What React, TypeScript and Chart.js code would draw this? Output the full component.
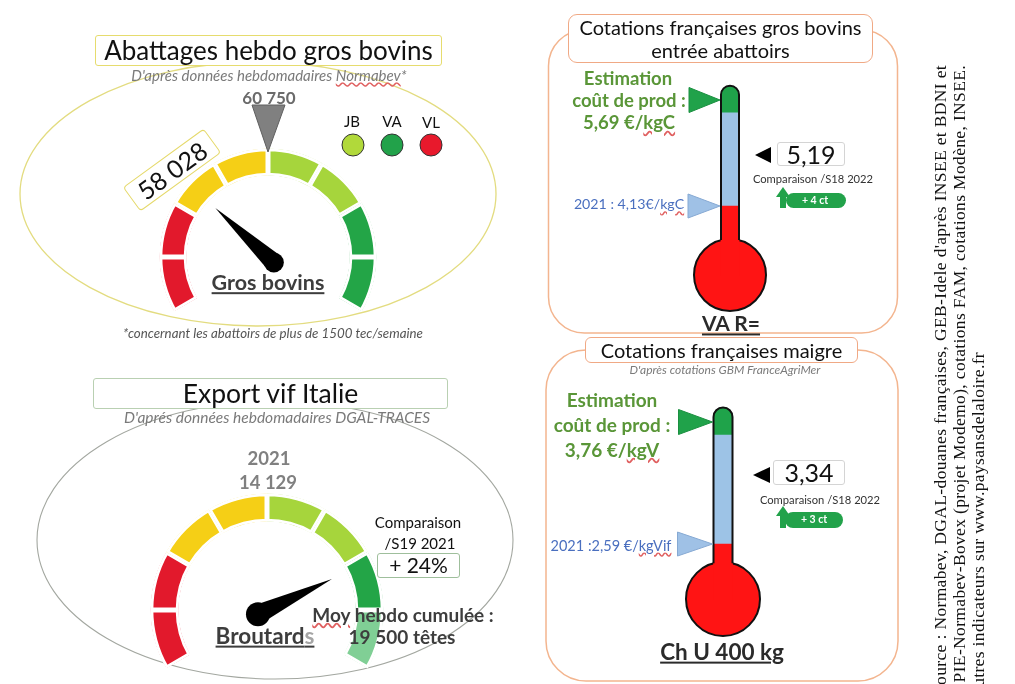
import React, { useEffect, useRef } from 'react';
import { Chart, registerables } from 'chart.js';
Chart.register(...registerables);

// ---------- Gauges ----------
const gaugeSegments = [1, 1, 1, 1, 1, 1, 1, 1];
const gaugeColors1 = ['#e2192c', '#e2192c', '#f5cf16', '#f5cf16', '#a6d53c', '#a6d53c', '#23a547', '#23a547'];
const gaugeColors2 = ['#e2192c', '#e2192c', '#f5cf16', '#f5cf16', '#a6d53c', '#a6d53c', '#23a547', '#80cf95'];
const gaugeReference = [60750, 14129];
const gaugeValue = [58028, 19500];
const gaugeMin = [53800, 4129];
const gaugeMax = [67700, 24129];

// ---------- Thermometers ----------
const thermoLabels = ['VA R=', 'Ch U 400 kg'];
const costEstimate = [5.69, 3.76];
const price2021 = [4.13, 2.59];
const currentPrice = ['5,19', '3,34'];
const weeklyChange = ['+ 4 ct', '+ 3 ct'];
const tubeTop = [5.9, 3.9];
const greenFrom = [5.5, 3.635];
const bulbLevel = [3.115, 2.063];
const thermoMin = [2.4524, 1.622];
const thermoMax = [6.1315, 4.0668];

type GaugeProps = { idx: number; cx: number; cy: number; size: number; rOut: number; rIn: number; colors: string[]; needleLen: number; knobR: number; knobOff: number };

function Gauge({ idx, cx, cy, size, rOut, rIn, colors, needleLen, knobR, knobOff }: GaugeProps) {
  const ref = useRef<HTMLCanvasElement>(null);
  useEffect(() => {
    const bw = 2.5;
    const total = gaugeSegments.reduce((a, b) => a + b, 0);
    const data = [...gaugeSegments, total / 2];
    const radius = rOut + bw;
    const inner = rIn - bw;
    const needle = {
      id: 'needle' + idx,
      afterDatasetsDraw(chart: any) {
        const arc = chart.getDatasetMeta(0).data[0];
        const x = arc.x, y = arc.y;
        const frac = (gaugeValue[idx] - gaugeMin[idx]) / (gaugeMax[idx] - gaugeMin[idx]);
        const ang = ((-120 + frac * 240) * Math.PI) / 180;
        const u = [Math.sin(ang), -Math.cos(ang)];
        const p = [Math.cos(ang), Math.sin(ang)];
        const ctx = chart.ctx;
        ctx.save();
        ctx.fillStyle = '#000';
        ctx.beginPath();
        ctx.moveTo(x + u[0] * needleLen, y + u[1] * needleLen);
        ctx.lineTo(x - u[0] * 4 + p[0] * 9, y - u[1] * 4 + p[1] * 9);
        ctx.lineTo(x - u[0] * 4 - p[0] * 9, y - u[1] * 4 - p[1] * 9);
        ctx.closePath();
        ctx.fill();
        ctx.beginPath();
        ctx.arc(x - u[0] * knobOff, y - u[1] * knobOff, knobR, 0, Math.PI * 2);
        ctx.fill();
        ctx.restore();
      },
    };
    const chart = new Chart(ref.current as HTMLCanvasElement, {
      type: 'doughnut',
      data: {
        labels: [...gaugeSegments.map((_, i) => 'S' + (i + 1)), 'gap'],
        datasets: [
          {
            data,
            backgroundColor: [...colors, 'rgba(0,0,0,0)'],
            borderColor: '#ffffff',
            borderWidth: [...gaugeSegments.map(() => bw), 0],
            borderAlign: 'inner',
          } as any,
        ],
      },
      options: {
        responsive: false,
        animation: false,
        events: [],
        rotation: -120,
        circumference: 360,
        radius,
        cutout: (inner / radius) * 100 + '%',
        layout: { padding: 0, autoPadding: false },
        plugins: { legend: { display: false }, tooltip: { enabled: false } },
      } as any,
      plugins: [needle],
    });
    return () => chart.destroy();
  }, []);
  return (
    <canvas
      ref={ref}
      width={size}
      height={size}
      style={{ position: 'absolute', left: cx - size / 2, top: cy - size / 2, width: size, height: size, zIndex: 1 }}
    />
  );
}

type ThermoProps = { idx: number; left: number; top: number; w: number; h: number; barW: number; bulbR: number; triLen: number };

function Thermo({ idx, left, top, w, h, barW, bulbR, triLen }: ThermoProps) {
  const ref = useRef<HTMLCanvasElement>(null);
  useEffect(() => {
    const tri = (ctx: any, tipX: number, tipY: number, len: number, halfH: number, fill: string, stroke: string) => {
      ctx.beginPath();
      ctx.moveTo(tipX, tipY);
      ctx.lineTo(tipX - len, tipY - halfH);
      ctx.lineTo(tipX - len, tipY + halfH);
      ctx.closePath();
      ctx.fillStyle = fill;
      ctx.fill();
      ctx.strokeStyle = stroke;
      ctx.lineWidth = 1;
      ctx.stroke();
    };
    const outline = {
      id: 'outline' + idx,
      afterDatasetsDraw(chart: any) {
        const ctx = chart.ctx;
        const yS = chart.scales.y;
        const bar = chart.getDatasetMeta(2).data[0];
        const cx = bar.x;
        const half = barW / 2;
        const topY = yS.getPixelForValue(tubeTop[idx]);
        const bulb = chart.getDatasetMeta(3).data[0];
        const jy = bulb.y - Math.sqrt(bulbR * bulbR - half * half);
        ctx.save();
        ctx.strokeStyle = '#111';
        ctx.lineWidth = 2;
        ctx.beginPath();
        ctx.moveTo(cx - half, jy);
        ctx.lineTo(cx - half, topY + half);
        ctx.arc(cx, topY + half, half, Math.PI, 0);
        ctx.lineTo(cx + half, jy);
        ctx.stroke();
        tri(ctx, cx - half - 1, yS.getPixelForValue(costEstimate[idx]), triLen, 12.5, '#20a24a', '#1b8f40');
        tri(ctx, cx - half - 1, yS.getPixelForValue(price2021[idx]), triLen + 1, 12, '#9fc1e6', '#86a9d3');
        ctx.restore();
      },
    };
    const chart = new Chart(ref.current as HTMLCanvasElement, {
      type: 'bar',
      data: {
        labels: [thermoLabels[idx]],
        datasets: [
          { type: 'bar', data: [[bulbLevel[idx], price2021[idx]]], backgroundColor: '#ff1414', barThickness: barW, grouped: false, order: 1 },
          { type: 'bar', data: [[price2021[idx], greenFrom[idx]]], backgroundColor: '#9dc3e6', barThickness: barW, grouped: false, order: 1 },
          {
            type: 'bar',
            data: [[greenFrom[idx], tubeTop[idx]]],
            backgroundColor: '#1fa34a',
            barThickness: barW,
            grouped: false,
            borderSkipped: false,
            borderRadius: { topLeft: barW / 2, topRight: barW / 2, bottomLeft: 0, bottomRight: 0 },
            order: 1,
          },
          {
            type: 'line',
            data: [bulbLevel[idx]],
            showLine: false,
            pointRadius: bulbR,
            pointBackgroundColor: '#ff1414',
            pointBorderColor: '#111',
            pointBorderWidth: 2,
            clip: false,
            order: 5,
          },
        ] as any,
      },
      options: {
        responsive: false,
        animation: false,
        events: [],
        layout: { padding: 0, autoPadding: false },
        plugins: { legend: { display: false }, tooltip: { enabled: false } },
        scales: {
          x: { display: false, offset: true },
          y: { display: false, min: thermoMin[idx], max: thermoMax[idx] },
        },
      } as any,
      plugins: [outline],
    });
    return () => chart.destroy();
  }, []);
  return <canvas ref={ref} width={w} height={h} style={{ position: 'absolute', left, top, width: w, height: h, zIndex: 1 }} />;
}

const Txt = ({ x, y, children, style }: any) => (
  <div style={{ position: 'absolute', left: x, top: y, transform: 'translate(-50%,-50%)', whiteSpace: 'nowrap', lineHeight: 1.1, zIndex: 4, ...style }}>
    {children}
  </div>
);

const Box = ({ left, top, w, h, border, radius, children, style }: any) => (
  <div
    style={{
      position: 'absolute',
      left,
      top,
      width: w,
      height: h,
      boxSizing: 'border-box',
      border,
      borderRadius: radius,
      background: '#fff',
      display: 'flex',
      flexDirection: 'column',
      alignItems: 'center',
      justifyContent: 'center',
      whiteSpace: 'nowrap',
      zIndex: 3,
      lineHeight: 1.15,
      ...style,
    }}
  >
    {children}
  </div>
);

const fmt = (n: number) => String(n).replace(/\B(?=(\d{3})+(?!\d))/g, ' ');

const green = '#5a9638';
const blueTxt = '#4a6fbf';
const wavy = { textDecoration: 'underline wavy #e06060' };

const VLine = ({ x, yEnd, children }: any) => (
  <div
    style={{
      position: 'absolute',
      left: x,
      top: yEnd + 800,
      width: 800,
      height: 19,
      lineHeight: '19px',
      textAlign: 'right',
      transformOrigin: '0 0',
      transform: 'rotate(-90deg)',
      whiteSpace: 'nowrap',
      fontFamily: '"Liberation Serif", serif',
      fontSize: 17.5,
      letterSpacing: 0.35,
      color: '#111',
      zIndex: 4,
    }}
  >
    {children}
  </div>
);

export default function App() {
  return (
    <div
      style={{
        position: 'absolute',
        left: 0,
        top: 0,
        width: 1015,
        height: 684,
        overflow: 'hidden',
        background: '#fff',
        fontFamily: 'Lato, "Open Sans", sans-serif',
        color: '#111',
      }}
    >
      <svg width={1015} height={684} style={{ position: 'absolute', left: 0, top: 0, zIndex: 0 }}>
        <ellipse cx={258} cy={194} rx={238} ry={132} fill="none" stroke="#e3dc80" strokeWidth={1.3} />
        <ellipse cx={275} cy={540} rx={238} ry={139} fill="none" stroke="#a3a7a0" strokeWidth={1.1} />
        <rect x={548.5} y={30} width={349} height={303} rx={36} fill="none" stroke="#f3b58f" strokeWidth={1.5} />
        <rect x={546} y={350} width={352} height={331} rx={40} fill="none" stroke="#f3b58f" strokeWidth={1.5} />
      </svg>

      <Gauge idx={0} cx={268} cy={257} size={240} rOut={106} rIn={84} colors={gaugeColors1} needleLen={72} knobR={10} knobOff={8} />
      <Gauge idx={1} cx={267} cy={610} size={250} rOut={114} rIn={91} colors={gaugeColors2} needleLen={72} knobR={12} knobOff={10} />
      <Thermo idx={0} left={665} top={70} w={130} h={250} barW={18} bulbR={36} triLen={31} />
      <Thermo idx={1} left={658} top={390} w={130} h={255} barW={19} bulbR={37} triLen={34} />

      {/* decorative shapes */}
      <svg width={1015} height={684} style={{ position: 'absolute', left: 0, top: 0, zIndex: 3 }}>
        <polygon points="252,105 285,105 268,152" fill="#808080" stroke="#5f5f5f" strokeWidth={1} />
        <circle cx={353} cy={145} r={11} fill="#b1d93a" stroke="#333" strokeWidth={1} />
        <circle cx={392} cy={145} r={11} fill="#22a24a" stroke="#333" strokeWidth={1} />
        <circle cx={431} cy={145} r={11} fill="#e8192c" stroke="#333" strokeWidth={1} />
        <polygon points="755,155 771,147 771,163" fill="#000" />
        <polygon points="753,475 770,467 770,483" fill="#000" />
        <rect x={786} y={193} width={60} height={15} rx={7.5} fill="#22a24a" />
        <polygon points="776,197 783,187 790,197" fill="#22a24a" />
        <rect x={780} y={195} width={6} height={13} fill="#22a24a" />
        <rect x={785} y={512} width={58} height={16} rx={8} fill="#22a24a" />
        <polygon points="776,516 783,506 790,516" fill="#22a24a" />
        <rect x={780} y={514} width={6} height={14} fill="#22a24a" />
      </svg>

      {/* Gauge 1 texts */}
      <Box left={95} top={35} w={347} h={31} border="1.5px solid #e6dc6e" radius={3} style={{ fontSize: 26 }}>
        Abattages hebdo gros bovins
      </Box>
      <Txt x={269} y={75} style={{ fontSize: 15, fontStyle: 'italic', color: '#7a7a7a' }}>
        D'après données hebdomadaires <span style={wavy}>Normabev</span>*
      </Txt>
      <Txt x={269} y={98} style={{ fontSize: 17, fontWeight: 700, color: '#6b6b6b' }}>
        {fmt(gaugeReference[0])}
      </Txt>
      <Txt x={352} y={121} style={{ fontSize: 15 }}>JB</Txt>
      <Txt x={392} y={121} style={{ fontSize: 15 }}>VA</Txt>
      <Txt x={431} y={122} style={{ fontSize: 15 }}>VL</Txt>
      <div
        style={{
          position: 'absolute',
          left: 172 - 50,
          top: 170 - 15,
          width: 100,
          height: 30,
          boxSizing: 'border-box',
          border: '1.5px solid #e5d96a',
          borderRadius: 4,
          background: '#fff',
          transform: 'rotate(-36deg)',
          display: 'flex',
          alignItems: 'center',
          justifyContent: 'center',
          fontSize: 25,
          zIndex: 3,
        }}
      >
        {fmt(gaugeValue[0])}
      </div>
      <Txt x={268} y={283} style={{ fontSize: 21.5, fontWeight: 700, color: '#3d3d3d', textDecoration: 'underline' }}>
        Gros bovins
      </Txt>
      <Txt x={273} y={333} style={{ fontSize: 13.3, fontStyle: 'italic', color: '#555' }}>
        *concernant les abattoirs de plus de 1500 tec/semaine
      </Txt>

      {/* Gauge 2 texts */}
      <Box left={93} top={378} w={355} h={31} border="1.5px solid #b9d0b2" radius={3} style={{ fontSize: 26.5 }}>
        Export vif Italie
      </Box>
      <Txt x={277} y={418} style={{ fontSize: 15.5, fontStyle: 'italic', color: '#7a7a7a' }}>
        D'aprés données hebdomadaires DGAL-TRACES
      </Txt>
      <Txt x={269} y={458} style={{ fontSize: 18.5, fontWeight: 700, color: '#808080' }}>2021</Txt>
      <Txt x={268} y={482} style={{ fontSize: 18.5, fontWeight: 700, color: '#808080' }}>
        {fmt(gaugeReference[1])}
      </Txt>
      <Txt x={418} y={522} style={{ fontSize: 15 }}>Comparaison</Txt>
      <Txt x={420} y={543} style={{ fontSize: 15 }}>/S19 2021</Txt>
      <Box left={377} top={553} w={83} h={25} border="1.5px solid #9fbf9c" radius={3} style={{ fontSize: 21 }}>
        + 24%
      </Box>
      <Txt x={403} y={615} style={{ fontSize: 19, fontWeight: 700, color: '#3d3d3d' }}>
        <span style={wavy}>Moy</span> hebdo cumulée :
      </Txt>
      <Txt x={402} y={637} style={{ fontSize: 19, fontWeight: 700, color: '#3d3d3d' }}>
        {fmt(gaugeValue[1])} têtes
      </Txt>
      <Txt x={265} y={636} style={{ fontSize: 22.5, fontWeight: 700, color: '#3d3d3d', textDecoration: 'underline' }}>
        Broutard<span style={{ color: '#a5a5a5' }}>s</span>
      </Txt>

      {/* Panel 1 */}
      <Box left={568} top={14} w={305} h={49} border="1.5px solid #f0a985" radius={9} style={{ fontSize: 20 }}>
        <div>Cotations françaises gros bovins</div>
        <div>entrée abattoirs</div>
      </Box>
      <Txt x={628} y={78} style={{ fontSize: 18.5, fontWeight: 700, color: green }}>Estimation</Txt>
      <Txt x={629} y={100} style={{ fontSize: 18.5, fontWeight: 700, color: green }}>coût de prod :</Txt>
      <Txt x={629} y={122} style={{ fontSize: 18.5, fontWeight: 700, color: green }}>
        5,69 €/<span style={wavy}>kgC</span>
      </Txt>
      <Txt x={629} y={204} style={{ fontSize: 14.2, color: blueTxt }}>
        2021 : 4,13€/<span style={wavy}>kgC</span>
      </Txt>
      <Box left={777} top={142} w={68} h={24} border="1px solid #d4d4d4" radius={3} style={{ fontSize: 25 }}>
        {currentPrice[0]}
      </Box>
      <Txt x={813} y={179} style={{ fontSize: 11.2, color: '#333' }}>Comparaison /S18 2022</Txt>
      <Txt x={815} y={200.5} style={{ fontSize: 10.5, fontWeight: 700, color: '#fff' }}>{weeklyChange[0]}</Txt>
      <Txt x={731} y={323} style={{ fontSize: 21, fontWeight: 700, color: '#2b2b2b', textDecoration: 'underline' }}>
        {thermoLabels[0]}
      </Txt>

      {/* Panel 2 */}
      <Box left={585} top={337} w={273} h={26} border="1.5px solid #f0a985" radius={6} style={{ fontSize: 20 }}>
        Cotations françaises maigre
      </Box>
      <Txt x={725} y={370} style={{ fontSize: 12, fontStyle: 'italic', color: '#7a7a7a' }}>
        D'après cotations GBM FranceAgriMer
      </Txt>
      <Txt x={612} y={400} style={{ fontSize: 19, fontWeight: 700, color: green }}>Estimation</Txt>
      <Txt x={612} y={425} style={{ fontSize: 19, fontWeight: 700, color: green }}>coût de prod :</Txt>
      <Txt x={612} y={450} style={{ fontSize: 19, fontWeight: 700, color: green }}>
        3,76 €/<span style={wavy}>kgV</span>
      </Txt>
      <Txt x={611} y={546} style={{ fontSize: 14.5, color: blueTxt }}>
        2021 :2,59 €/<span style={wavy}>kgVif</span>
      </Txt>
      <Box left={773} top={460} w={72} h={25} border="1px solid #d4d4d4" radius={3} style={{ fontSize: 25 }}>
        {currentPrice[1]}
      </Box>
      <Txt x={820} y={500} style={{ fontSize: 11.2, color: '#333' }}>Comparaison /S18 2022</Txt>
      <Txt x={814} y={520} style={{ fontSize: 10.5, fontWeight: 700, color: '#fff' }}>{weeklyChange[1]}</Txt>
      <Txt x={722} y={652} style={{ fontSize: 22.5, fontWeight: 700, color: '#2b2b2b', textDecoration: 'underline' }}>
        {thermoLabels[1]}
      </Txt>

      {/* Source (vertical) */}
      <VLine x={931} yEnd={65}>Source : Normabev, DGAL-douanes françaises, GEB-Idele d'après INSEE et BDNI et</VLine>
      <VLine x={950} yEnd={65}>PIE-Normabev-Bovex (projet Modemo), cotations FAM, cotations Modène, INSEE.</VLine>
      <VLine x={969} yEnd={352}>Autres indicateurs sur www.paysansdelaloire.fr</VLine>
    </div>
  );
}
